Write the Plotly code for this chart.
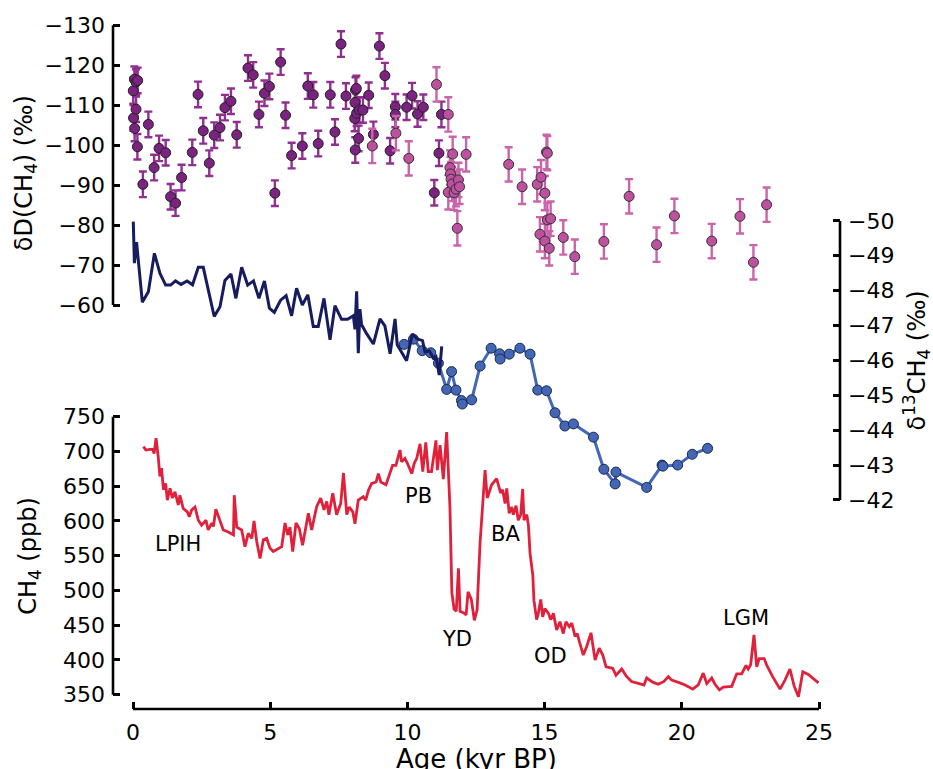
import plotly.graph_objects as go

# ---------------- data ----------------
# deltaD of CH4 (permil), early samples (dark) and later samples (pink)
dD_dark_age = [0.01, 0.05, 0.11, 0.17, 0.02, 0.06, 0.11, 0.16, 0.36, 0.56, 0.77, 0.95, 1.19, 1.37,
               1.55, 1.77, 2.16, 2.37, 2.56, 2.78, 2.96, 3.17, 3.35, 3.57, 3.78, 4.19, 4.38, 4.59,
               4.79, 4.97, 5.17, 5.38, 5.56, 5.78, 6.17, 6.37, 6.57, 6.75, 7.19, 7.36, 7.58, 7.76,
               8.08, 8.09, 8.10, 8.11, 8.14, 8.15, 8.22, 8.25, 8.38, 8.59, 8.76, 8.98, 9.18, 9.37,
               9.56, 9.56, 9.97, 10.17, 10.37, 10.58, 10.98, 11.15, 11.24]
dD_dark_val = [-113.6, -116.5, -115.8, -116.2, -106.8, -104.2, -109.0, -99.6, -90.2, -105.2, -94.4,
               -99.2, -98.1, -87.1, -85.5, -91.9, -98.2, -112.7, -103.6, -95.5, -102.5, -104.4,
               -109.4, -111.0, -102.6, -119.3, -117.6, -107.7, -113.0, -114.7, -88.0, -120.8,
               -107.5, -97.4, -99.8, -114.8, -112.6, -100.4, -112.6, -103.3, -125.3, -112.3,
               -106.7, -110.7, -98.8, -113.8, -114.2, -108.0, -101.7, -108.8, -108.8, -112.5,
               -102.7, -124.8, -117.4, -98.6, -109.6, -107.7, -109.5, -112.4, -107.8, -109.5,
               -88.1, -98.0, -107.7]
dD_pink_age = [8.72, 9.58, 10.05, 11.06, 11.49, 11.49, 11.55, 11.57, 11.59, 11.63, 11.65, 11.70,
               11.77, 11.82, 11.86, 11.90, 12.14, 13.69, 14.18, 14.73, 14.87, 15.01, 15.07, 15.10,
               14.83, 15.01, 15.17, 15.10, 15.22, 15.68, 16.10, 17.16, 18.08, 19.08, 19.73, 21.09,
               22.12, 22.61, 23.09]
dD_pink_val = [-99.8, -103.0, -96.7, -115.2, -107.7, -88.2, -94.4, -92.8, -91.5, -90.3, -97.8, -88.1,
               -89.0, -79.2, -91.3, -89.6, -97.7, -95.2, -89.6, -90.2, -92.0, -88.0, -98.3, -98.0,
               -77.7, -76.0, -74.2, -81.3, -81.6, -76.9, -72.1, -75.9, -87.2, -75.1, -82.3, -76.0,
               -82.2, -70.7, -85.1]
dD_dark_err = 3.2
dD_pink_err = 4.3

# delta13C of CH4 (permil): Holocene record (line) and deglacial record (line + markers)
d13_hol_age = [0.01, 0.05, 0.13, 0.34, 0.56, 0.78, 0.98, 1.19, 1.37, 1.55, 1.75, 1.97, 2.17, 2.38,
               2.56, 2.96, 3.17, 3.35, 3.57, 3.75, 3.96, 4.18, 4.39, 4.59, 4.79, 4.97, 5.15, 5.38,
               5.58, 5.78, 5.96, 6.17, 6.37, 6.57, 6.75, 6.96, 7.18, 7.36, 7.60, 7.82, 8.03, 8.09,
               8.15, 8.21, 8.27, 8.33, 8.52, 8.76, 9.00, 9.18, 9.37, 9.55, 9.63, 9.97, 10.18, 10.35,
               10.55, 10.64, 10.80, 10.95, 11.04, 11.16, 11.25]
d13_hol_val = [-49.98, -48.79, -49.39, -47.67, -47.97, -49.07, -48.50, -48.16, -48.16, -48.28,
               -48.18, -48.28, -48.17, -48.67, -48.67, -47.26, -47.54, -48.29, -48.48, -47.78,
               -48.67, -48.16, -48.28, -47.78, -48.28, -47.50, -47.38, -47.73, -47.86, -47.28,
               -48.07, -47.59, -47.88, -46.97, -46.97, -47.78, -46.59, -47.57, -47.18, -47.18,
               -47.28, -46.89, -47.98, -46.21, -47.47, -47.02, -46.76, -46.47, -47.19, -46.99,
               -46.19, -47.19, -46.45, -45.99, -46.76, -46.62, -46.57, -46.25, -46.27, -46.06,
               -46.11, -45.58, -46.40]
d13_deg_age = [9.88, 10.22, 10.54, 10.85, 11.13, 11.43, 11.61, 11.77, 11.97, 12.00, 12.34, 12.65,
               13.05, 13.36, 13.38, 13.71, 14.10, 14.47, 14.75, 15.07, 15.38, 15.74, 16.05, 16.78,
               17.16, 17.57, 17.60, 18.72, 19.28, 19.31, 19.85, 20.38, 20.94]
d13_deg_val = [-46.46, -46.61, -46.28, -46.22, -45.92, -45.17, -45.68, -45.15, -44.85, -44.75,
               -44.87, -45.84, -46.35, -46.19, -46.04, -46.18, -46.35, -46.18, -45.15, -45.13,
               -44.50, -44.12, -44.18, -43.80, -42.88, -42.46, -42.80, -42.36, -43.00, -42.97,
               -43.00, -43.31, -43.48]

# CH4 concentration (ppb)
ch4_age = [0.38, 0.47, 0.62, 0.72, 0.77, 0.84, 0.92, 0.98, 1.04, 1.11, 1.19, 1.25, 1.35, 1.43,
           1.53, 1.65, 1.71, 1.83, 1.98, 2.05, 2.14, 2.26, 2.38, 2.50, 2.66, 2.74, 2.87, 2.93,
           3.02, 3.17, 3.29, 3.47, 3.66, 3.69, 3.78, 3.96, 4.08, 4.20, 4.33, 4.41, 4.51, 4.63,
           4.75, 4.87, 4.99, 5.11, 5.30, 5.42, 5.54, 5.64, 5.72, 5.82, 5.94, 6.06, 6.18, 6.30,
           6.39, 6.51, 6.69, 6.84, 6.96, 7.06, 7.14, 7.28, 7.42, 7.57, 7.67, 7.79, 7.88, 8.01,
           8.09, 8.21, 8.39, 8.48, 8.58, 8.70, 8.86, 8.94, 9.03, 9.22, 9.37, 9.46, 9.58, 9.73,
           9.79, 9.91, 10.00, 10.16, 10.25, 10.34, 10.46, 10.56, 10.67, 10.76, 10.88, 11.04,
           11.09, 11.19, 11.31, 11.43, 11.55, 11.62, 11.70, 11.78, 11.86, 11.92, 12.04, 12.14,
           12.21, 12.33, 12.44, 12.54, 12.65, 12.83, 12.91, 13.07, 13.25, 13.40, 13.47, 13.56,
           13.62, 13.71, 13.80, 13.86, 13.96, 14.04, 14.13, 14.20, 14.25, 14.35, 14.41, 14.47,
           14.57, 14.61, 14.71, 14.77, 14.86, 14.93, 15.01, 15.14, 15.22, 15.32, 15.44, 15.56,
           15.68, 15.78, 15.90, 15.99, 16.11, 16.19, 16.27, 16.41, 16.53, 16.69, 16.84, 16.99,
           17.12, 17.24, 17.48, 17.60, 17.81, 17.99, 18.17, 18.36, 18.62, 18.72, 18.94, 19.14,
           19.35, 19.51, 19.63, 19.93, 20.12, 20.40, 20.60, 20.78, 20.91, 21.09, 21.21, 21.37,
           21.51, 21.82, 22.00, 22.18, 22.34, 22.42, 22.51, 22.63, 22.73, 22.82, 23.00, 23.09,
           23.31, 23.58, 23.76, 23.94, 24.09, 24.25, 24.41, 24.61, 24.98]
ch4_val = [707, 702, 703, 703, 697, 719, 692, 664, 676, 645, 654, 630, 647, 633,
           642, 623, 637, 618, 613, 606, 616, 620, 601, 594, 601, 587, 597, 592,
           617, 599, 587, 584, 580, 637, 591, 587, 563, 582, 575, 600, 570, 546,
           573, 575, 561, 556, 561, 563, 597, 580, 591, 556, 597, 589, 565, 592,
           611, 587, 620, 633, 616, 628, 609, 640, 609, 625, 669, 609, 620, 613,
           596, 630, 635, 630, 644, 654, 656, 668, 656, 652, 668, 680, 680, 702,
           685, 690, 683, 668, 683, 690, 711, 671, 713, 671, 671, 716,
           673, 709, 660, 728, 620, 497, 473, 470, 532, 470, 468, 465,
           498, 487, 457, 472, 570, 673, 633, 652, 661, 640, 645, 625,
           647, 611, 620, 609, 622, 601, 609, 646, 601, 609, 594, 553,
           522, 486, 458, 467, 487, 462, 474, 467, 458, 467, 443, 455,
           438, 455, 448, 453, 434, 438, 426, 407, 419, 439, 400, 417,
           407, 390, 388, 378, 387, 376, 369, 367, 364, 374, 368, 365,
           369, 376, 371, 367, 364, 358, 364, 381, 366, 374, 365, 357,
           361, 362, 380, 380, 392, 387, 393, 436, 390, 402, 402, 393,
           376, 358, 371, 387, 363, 347, 383, 379, 367]

# climate-interval labels placed on the CH4 curve
period_names = ["LPIH", "PB", "YD", "BA", "OD", "LGM"]
period_age = [1.64, 10.42, 11.82, 13.58, 15.23, 22.34]
period_ch4 = [567, 636, 430, 581, 406, 460]

# tick values
age_ticks = [0, 5, 10, 15, 20, 25]
dD_ticks = [-130, -120, -110, -100, -90, -80, -70, -60]
ch4_ticks = [350, 400, 450, 500, 550, 600, 650, 700, 750]
d13_ticks = [-50, -49, -48, -47, -46, -45, -44, -43, -42]


def minus(v):
    return str(v).replace("-", "\u2212")


FONT = "DejaVu Sans"
DARK = "#7c2280"
DARK_ERR = "#8f2f90"
PINK = "#bf4f9f"
PINK_ERR = "#c964ab"
NAVY = "#161c5e"
BLUE = "#4367b5"
RED = "#e0213b"

fig = go.Figure()

# deltaD points with error bars
fig.add_trace(go.Scatter(
    x=dD_dark_age, y=dD_dark_val, mode="markers", yaxis="y",
    marker=dict(size=10, color=DARK, line=dict(color="#222222", width=1)),
    error_y=dict(type="constant", value=dD_dark_err, color=DARK_ERR, thickness=2.4, width=4),
))
fig.add_trace(go.Scatter(
    x=dD_pink_age, y=dD_pink_val, mode="markers", yaxis="y",
    marker=dict(size=10, color=PINK, line=dict(color="#333333", width=1)),
    error_y=dict(type="constant", value=dD_pink_err, color=PINK_ERR, thickness=2.4, width=4),
))

# CH4 concentration
fig.add_trace(go.Scatter(
    x=ch4_age, y=ch4_val, mode="lines", yaxis="y2",
    line=dict(color=RED, width=2.8),
))

# delta13C records
fig.add_trace(go.Scatter(
    x=d13_deg_age, y=d13_deg_val, mode="lines+markers", yaxis="y3",
    line=dict(color=BLUE, width=3),
    marker=dict(size=10, color=BLUE, line=dict(color="#1c2a55", width=1)),
))
fig.add_trace(go.Scatter(
    x=d13_hol_age, y=d13_hol_val, mode="lines", yaxis="y3",
    line=dict(color=NAVY, width=3),
))

axis_common = dict(
    ticks="inside", ticklen=7, tickwidth=2.5, tickcolor="black",
    showgrid=False, zeroline=False, showline=False, automargin=False,
    tickfont=dict(family=FONT, size=22, color="black"),
)

fig.update_layout(
    width=933, height=769,
    margin=dict(l=113, r=93, t=20, b=60),
    template="none",
    plot_bgcolor="white", paper_bgcolor="white",
    showlegend=False,
    font=dict(family=FONT, size=22, color="black"),
    xaxis=dict(range=[-0.729, 25.765], tickvals=age_ticks, ticklabelstandoff=8, **axis_common),
    yaxis=dict(range=[41.1, -131.33], tickvals=dD_ticks, ticktext=[minus(v) for v in dD_ticks],
               ticklabelstandoff=7, **axis_common),
    yaxis2=dict(range=[329.4, 1320.8], tickvals=ch4_ticks, overlaying="y", anchor="x", side="left",
                ticklabelstandoff=7, **axis_common),
    yaxis3=dict(range=[-36.007, -55.76], tickvals=d13_ticks, ticktext=[minus(v) for v in d13_ticks],
                overlaying="y", anchor="x", side="right", ticklabelstandoff=7, **axis_common),
)

# bounded spines
spine = dict(color="black", width=2.6)
fig.add_shape(type="line", xref="paper", yref="y", x0=0, x1=0, y0=dD_ticks[0], y1=dD_ticks[-1], line=spine)
fig.add_shape(type="line", xref="paper", yref="y2", x0=0, x1=0, y0=ch4_ticks[0], y1=ch4_ticks[-1], line=spine)
fig.add_shape(type="line", xref="paper", yref="y3", x0=1, x1=1, y0=d13_ticks[0], y1=d13_ticks[-1], line=spine)
fig.add_shape(type="line", xref="x", yref="paper", x0=age_ticks[0], x1=age_ticks[-1], y0=0, y1=0, line=spine)

# axis titles
title_font = dict(family=FONT, size=24, color="black")
fig.add_annotation(text="\u03b4D(CH<sub>4</sub>) (\u2030)", xref="paper", yref="y", x=-0.121, y=-93,
                   xanchor="center", yanchor="middle", textangle=-90, showarrow=False, font=title_font)
fig.add_annotation(text="CH<sub>4</sub> (ppb)", xref="paper", yref="y2", x=-0.114, y=550,
                   xanchor="center", yanchor="middle", textangle=-90, showarrow=False, font=title_font)
fig.add_annotation(text="\u03b4<sup>13</sup>CH<sub>4</sub> (\u2030)", xref="paper", yref="y3", x=1.1045, y=-46,
                   xanchor="center", yanchor="middle", textangle=-90, showarrow=False, font=title_font)
fig.add_annotation(text="Age (kyr BP)", xref="x", yref="paper", x=12.5, y=-0.072,
                   xanchor="center", yanchor="middle", showarrow=False,
                   font=dict(family=FONT, size=26, color="black"))

# interval labels
for name, a, c in zip(period_names, period_age, period_ch4):
    fig.add_annotation(text=name, x=a, y=c, xref="x", yref="y2", showarrow=False,
                       xanchor="center", yanchor="middle",
                       font=dict(family=FONT, size=21, color="black"))

fig.write_html("out.html")
